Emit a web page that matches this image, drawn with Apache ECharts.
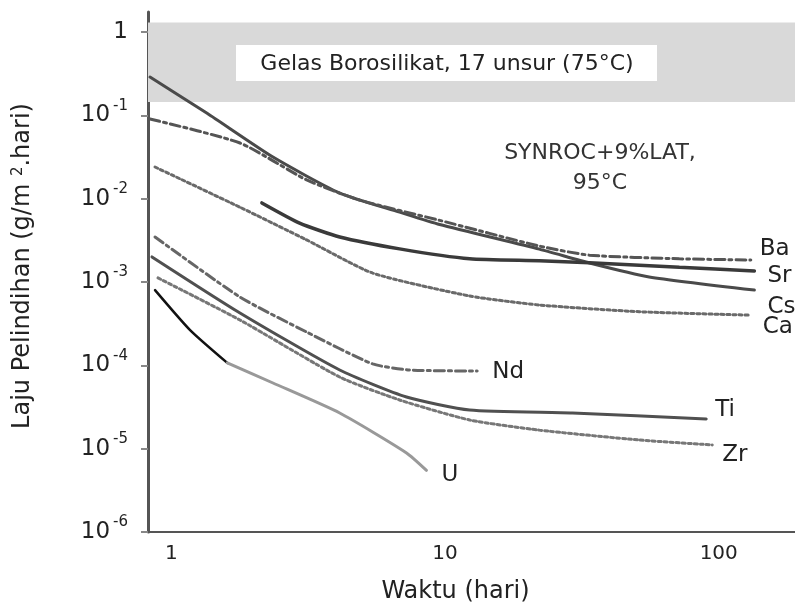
<!DOCTYPE html>
<html><head><meta charset="utf-8">
<script src="https://cdn.jsdelivr.net/npm/echarts@6/dist/echarts.min.js"></script>
<style>html,body{margin:0;padding:0;background:#fff}#c{width:795px;height:613px}</style>
</head><body><div id="c"></div>
<script>
// axis ticks
const xTicks = [1, 10, 100];
const yTicks = [1e-6, 1e-5, 1e-4, 1e-3, 1e-2, 1e-1, 1];
const xRange = [0.821, 190];
const yRange = [1e-6, 1.74];
// borosilicate glass band (rate range)
const bandRate = [0.145, 1.3];

// series: time (hari) and leach rate (g/m2.hari)
const csTime = [0.835, 1.35, 2.35, 4.12, 6.82, 9.55, 22.1, 33.7, 55.7, 135];
const csRate = [0.288, 0.106, 0.0316, 0.0117, 0.0069, 0.0049, 0.00248, 0.00169, 0.00115, 0.0008];
const baTime = [0.835, 1.78, 3.12, 4.88, 9.55, 22.1, 33.7, 71.8, 131];
const baRate = [0.0904, 0.0466, 0.0168, 0.0096, 0.0055, 0.0027, 0.0021, 0.0019, 0.00184];
const srTime = [2.14, 2.94, 4.12, 6.82, 12.3, 22.1, 33.7, 71.8, 135];
const srRate = [0.0089, 0.0051, 0.00347, 0.0025, 0.0019, 0.0018, 0.0017, 0.0015, 0.00136];
const caTime = [0.871, 1.78, 3.12, 5.44, 12.3, 22.1, 51.3, 131];
const caRate = [0.024, 0.0079, 0.0032, 0.00128, 0.00068, 0.00053, 0.00044, 0.0004];
const ndTime = [0.871, 1.78, 3.12, 5.44, 7.42, 13.1];
const ndRate = [0.00347, 0.00066, 0.000251, 0.000104, 0.000088, 0.0000855];
const tiTime = [0.849, 1.78, 4.12, 7.23, 12.3, 29.2, 90];
const tiRate = [0.002, 0.000425, 0.0000879, 0.0000417, 0.0000291, 0.0000268, 0.0000227];
const zrTime = [0.893, 1.78, 4.12, 6.82, 12.3, 22.1, 51.3, 94.7];
const zrRate = [0.00112, 0.00035, 0.0000724, 0.0000384, 0.0000221, 0.0000167, 0.0000127, 0.0000111];
const uTimeA = [0.871, 1.17, 1.6];
const uRateA = [0.0008, 0.000265, 0.000107];
const uTimeB = [1.6, 2.35, 4.12, 7.23, 8.55];
const uRateB = [0.000107, 0.0000614, 0.0000268, 0.0000089, 0.0000055];

const FONT = 'DejaVu Sans';
const TXT = '#222';
function pairs(t, r) { return t.map((v, i) => [v, r[i]]); }
function line(name, t, r, color, width, type, off, showLabel) {
  return {
    name: name, type: 'line', data: pairs(t, r), showSymbol: false, symbol: 'none',
    smooth: 0.2, silent: true,
    lineStyle: { color: color, width: width, type: type, cap: 'round' },
    endLabel: showLabel === false ? { show: false } : {
      show: true, formatter: name, offset: off, color: TXT,
      fontFamily: FONT, fontSize: 23
    },
    z: 3
  };
}

const chart = echarts.init(document.getElementById('c'), null, { renderer: 'canvas' });
chart.setOption({
  animation: false,
  backgroundColor: '#fff',
  grid: { left: 148, right: 0, top: 12, bottom: 81, containLabel: false, outerBoundsMode: 'none' },
  xAxis: {
    type: 'log', min: xRange[0], max: xRange[1],
    name: 'Waktu (hari)', nameLocation: 'middle', nameGap: 48,
    nameTextStyle: { fontFamily: FONT, fontSize: 24, color: TXT, padding: [0, 32, 0, 0] },
    axisLine: { show: true, lineStyle: { color: '#555', width: 2 } },
    axisTick: { show: false, customValues: xTicks },
    axisLabel: { customValues: xTicks, fontFamily: FONT, fontSize: 20, color: TXT, margin: 12 },
    splitLine: { show: false }
  },
  yAxis: {
    type: 'log', min: yRange[0], max: yRange[1],
    name: 'Laju Pelindihan (g/m {s|2}.hari)', nameLocation: 'middle', nameGap: 113, nameRotate: 90,
    nameTextStyle: { fontFamily: FONT, fontSize: 24, color: TXT, padding: [0, 0, 0, 12],
      rich: { s: { fontFamily: FONT, fontSize: 15, verticalAlign: 'top', lineHeight: 15, color: TXT } } },
    axisLine: { show: true, lineStyle: { color: '#555', width: 3 } },
    axisTick: { show: true, inside: false, length: 7, customValues: yTicks, lineStyle: { color: '#888', width: 2 } },
    axisLabel: {
      customValues: yTicks, margin: 20, color: TXT,
      formatter: function (v) {
        const e = Math.round(Math.log10(v));
        return e === 0 ? '{b|1}' : '{b|10}{s|' + e + '}';
      },
      rich: {
        b: { fontFamily: FONT, fontSize: 23, lineHeight: 34, color: TXT },
        s: { fontFamily: FONT, fontSize: 15, lineHeight: 15, verticalAlign: 'top', color: TXT, padding: [0, 0, 0, 3] }
      }
    },
    splitLine: { show: false }
  },
  series: [
    {
      name: 'band', type: 'line', data: [], silent: true, z: 1,
      markArea: {
        silent: true, itemStyle: { color: '#d9d9d9' },
        data: [[{ coord: [xRange[0], bandRate[0]] }, { coord: [xRange[1], bandRate[1]] }]]
      }
    },
    line('Cs', csTime, csRate, '#4a4a4a', 3, 'solid', [5, 17]),
    line('Ba', baTime, baRate, '#555', 3, [10, 4, 3, 4], [1, -11]),
    line('Sr', srTime, srRate, '#3a3a3a', 3.5, 'solid', [5, 5]),
    line('Ca', caTime, caRate, '#6a6a6a', 3, [3, 3], [4, 12]),
    line('Nd', ndTime, ndRate, '#666', 3, [10, 4, 3, 4], [7, 1]),
    line('Ti', tiTime, tiRate, '#505050', 3, 'solid', [1, -9]),
    line('Zr', zrTime, zrRate, '#777', 3, [3, 3], [2, 10]),
    line('U ', uTimeA, uRateA, '#111', 2.5, 'solid', [0, 0], false),
    line('U', uTimeB, uRateB, '#999', 3, 'solid', [7, 5])
  ],
  graphic: [
    { type: 'rect', x: 236, y: 45, shape: { x: 0, y: 0, width: 421, height: 36 }, style: { fill: '#fff' }, z: 10 },
    { type: 'text', x: 447, y: 64, z: 11, style: {
        text: 'Gelas Borosilikat, 17 unsur (75°C)', fontFamily: FONT, fontSize: 22, fill: TXT,
        align: 'center', verticalAlign: 'middle' } },
    { type: 'text', z: 11, x: 600, y: 138, style: {
        text: 'SYNROC+9%LAT,\n95°C', fontFamily: FONT, fontSize: 22, lineHeight: 30,
        fill: '#333', align: 'center' } }
  ]
});
</script></body></html>
